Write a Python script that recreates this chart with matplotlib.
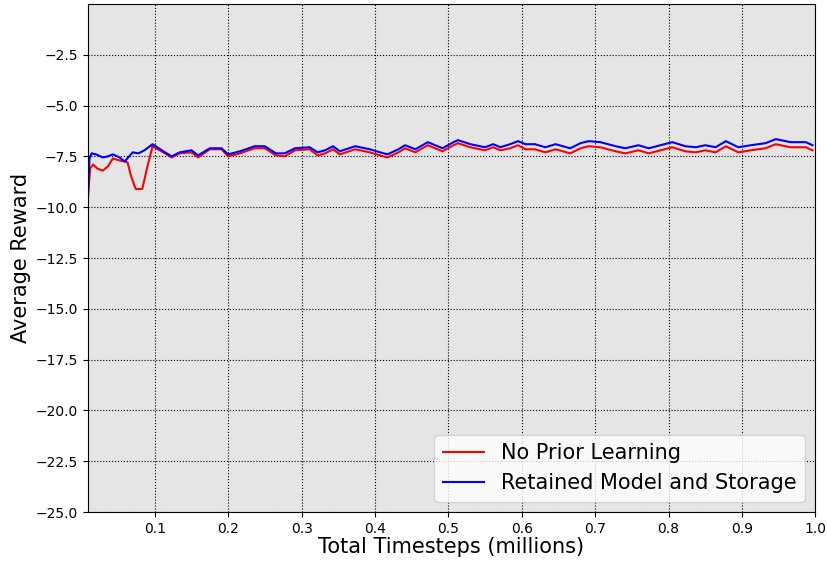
import matplotlib.pyplot as plt

# early part (red and blue differ a lot here)
early_x_red = [0.0086, 0.012, 0.016, 0.022, 0.029, 0.036, 0.043, 0.052, 0.059, 0.063, 0.068, 0.074, 0.083, 0.090, 0.097]
early_red = [-9.6, -8.1, -7.9, -8.1, -8.2, -8.0, -7.6, -7.7, -7.75, -7.8, -8.5, -9.1, -9.1, -8.0, -7.0]

early_x_blue = [0.0086, 0.011, 0.014, 0.020, 0.029, 0.036, 0.043, 0.052, 0.059, 0.070, 0.078, 0.086, 0.097]
early_blue = [-10.0, -7.6, -7.35, -7.4, -7.55, -7.5, -7.4, -7.55, -7.75, -7.3, -7.35, -7.2, -6.9]

# rest of the run, shared timesteps
steps = [0.114, 0.123, 0.134, 0.150, 0.159, 0.175, 0.191, 0.200, 0.216, 0.236,
         0.250, 0.265, 0.277, 0.291, 0.311, 0.322, 0.332, 0.343, 0.352, 0.373,
         0.393, 0.407, 0.417, 0.432, 0.441, 0.455, 0.472, 0.492, 0.507, 0.513,
         0.530, 0.550, 0.561, 0.571, 0.584, 0.595, 0.605, 0.618, 0.632, 0.646,
         0.666, 0.680, 0.691, 0.707, 0.728, 0.741, 0.759, 0.773, 0.789, 0.805,
         0.823, 0.837, 0.850, 0.864, 0.878, 0.895, 0.912, 0.932, 0.946, 0.966,
         0.987, 0.996]
retained = [-7.3, -7.5, -7.3, -7.2, -7.45, -7.1, -7.1, -7.4, -7.25, -7.0,
            -7.0, -7.35, -7.35, -7.1, -7.05, -7.3, -7.2, -7.0, -7.25, -7.0,
            -7.15, -7.3, -7.4, -7.15, -6.95, -7.15, -6.8, -7.1, -6.8, -6.7,
            -6.9, -7.05, -6.9, -7.05, -6.9, -6.75, -6.9, -6.9, -7.05, -6.9,
            -7.1, -6.85, -6.75, -6.8, -7.0, -7.1, -6.95, -7.1, -6.95, -6.8,
            -7.0, -7.05, -6.95, -7.05, -6.75, -7.05, -6.95, -6.85, -6.65, -6.8,
            -6.8, -6.95]
no_prior = [-7.35, -7.55, -7.35, -7.3, -7.55, -7.15, -7.15, -7.5, -7.35, -7.1,
            -7.1, -7.45, -7.5, -7.2, -7.15, -7.45, -7.35, -7.15, -7.4, -7.15,
            -7.3, -7.45, -7.55, -7.3, -7.1, -7.3, -6.95, -7.25, -6.95, -6.85,
            -7.05, -7.2, -7.05, -7.2, -7.1, -6.95, -7.15, -7.15, -7.3, -7.15,
            -7.35, -7.1, -7.0, -7.05, -7.25, -7.35, -7.2, -7.35, -7.2, -7.05,
            -7.25, -7.3, -7.2, -7.3, -7.0, -7.3, -7.2, -7.1, -6.9, -7.05,
            -7.05, -7.2]

xticks = [0.1, 0.2, 0.3, 0.4, 0.5, 0.6, 0.7, 0.8, 0.9, 1.0]
yticks = [-25.0, -22.5, -20.0, -17.5, -15.0, -12.5, -10.0, -7.5, -5.0, -2.5]

fig = plt.figure(figsize=(8.27, 5.64), dpi=100)
ax = fig.add_axes([0.106, 0.092, 0.880, 0.901])
ax.set_facecolor('#e5e5e5')

ax.plot(early_x_red + steps, early_red + no_prior, color='red', lw=1.5, label='No Prior Learning')
ax.plot(early_x_blue + steps, early_blue + retained, color='blue', lw=1.5, label='Retained Model and Storage')

ax.set_xlim(0.0086, 1.0)
ax.set_ylim(-25, 0)
ax.set_xticks(xticks)
ax.set_yticks(yticks)
ax.tick_params(labelsize=10)
ax.grid(True, color='black', linestyle=':', linewidth=0.8)
ax.set_xlabel('Total Timesteps (millions)', fontsize=15, labelpad=1)
ax.set_ylabel('Average Reward', fontsize=15, labelpad=3)
ax.legend(loc='lower right', fontsize=15)

fig.savefig('out.png')
